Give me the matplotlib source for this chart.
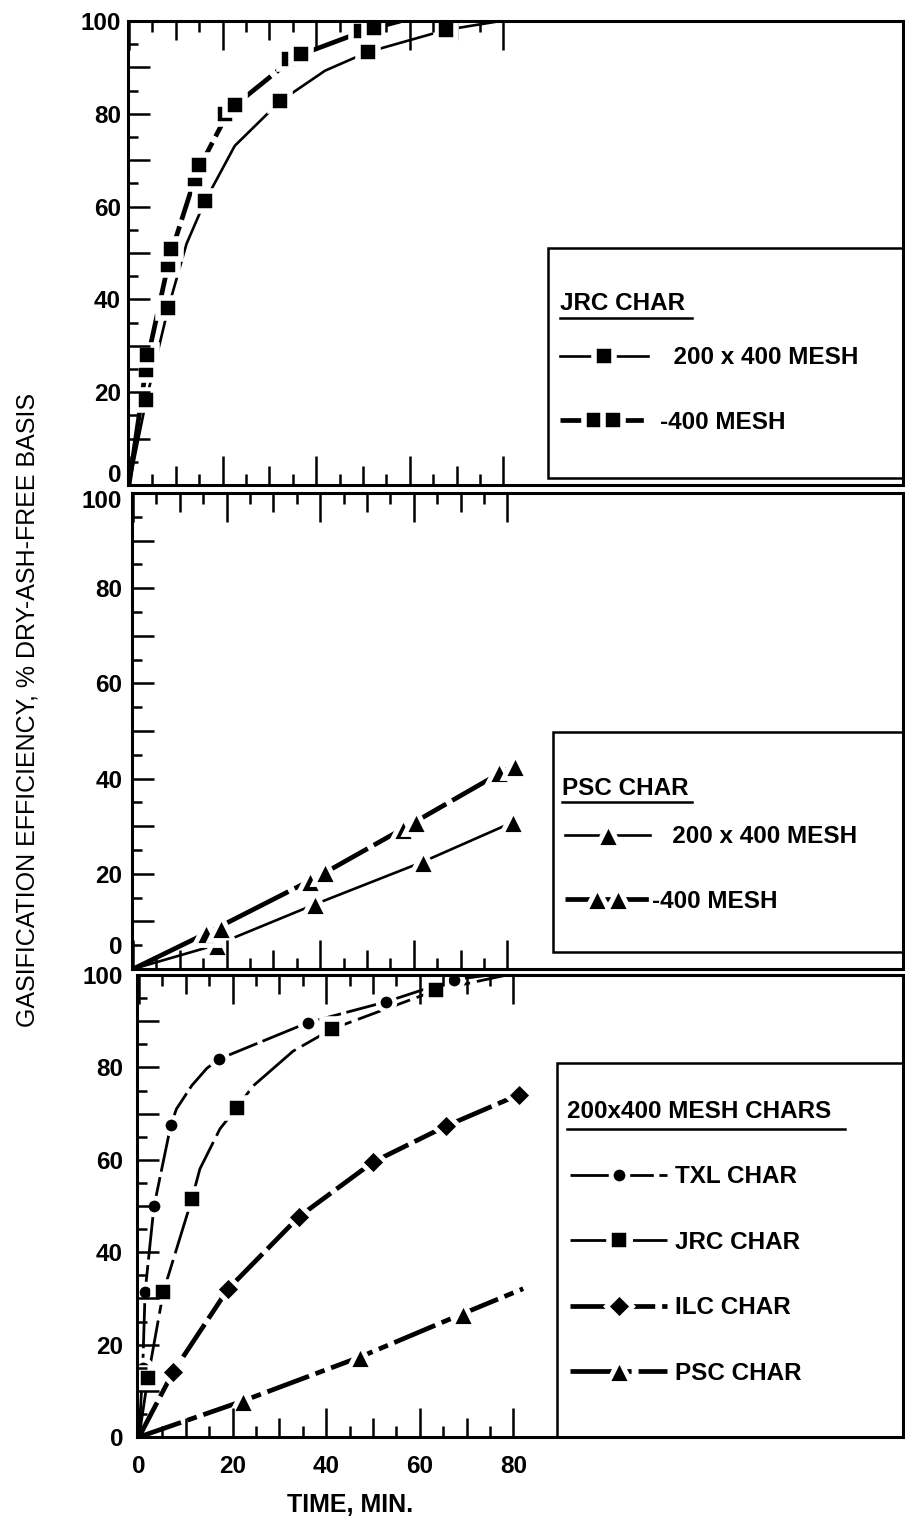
import matplotlib
matplotlib.use("Agg")
import matplotlib.pyplot as plt
from matplotlib.patches import Rectangle
from matplotlib.lines import Line2D
from matplotlib.legend_handler import HandlerLine2D, HandlerTuple
from matplotlib.ticker import FixedLocator, FuncFormatter

plt.rcParams['font.family'] = ['Liberation Sans', 'DejaVu Sans']
plt.rcParams['font.weight'] = 'bold'
plt.rcParams['lines.scale_dashes'] = False

# ---- top panel: JRC char ----
jrc_fine_t = [3.7, 8.4, 16.2, 32.3, 51.0, 67.8]
jrc_fine_y = [18.4, 38.2, 61.1, 82.7, 93.3, 98.1]
jrc_fine_curve_t = [0, 3.7, 8.4, 12.3, 16.2, 22.6, 32.3, 41.9, 51.0, 67.8, 79.4]
jrc_fine_curve_y = [0, 18.4, 38.2, 52.0, 61.1, 73.1, 82.7, 89.3, 93.3, 98.1, 100]

jrc_m400_t = [3.7, 3.9, 8.4, 9.0, 14.0, 15.0, 20.5, 22.6, 34.2, 36.8, 49.5, 52.3]
jrc_m400_y = [24.8, 28.1, 47.5, 50.8, 65.9, 68.9, 79.9, 81.9, 91.8, 92.9, 97.8, 98.5]
jrc_m400_curve_t = [0, 3.8, 8.7, 14.5, 21.5, 35.5, 50.9, 58.0]
jrc_m400_curve_y = [0, 26.4, 49.1, 67.4, 80.9, 92.3, 98.1, 100]

# ---- middle panel: PSC char ----
psc_fine_t = [17.9, 38.9, 61.9, 81.3]
psc_fine_y = [5.1, 13.6, 22.5, 30.9]
psc_fine_curve_t = [0, 17.9, 38.9, 61.9, 81.3]
psc_fine_curve_y = [0, 5.1, 13.6, 22.5, 30.9]

psc_m400_t = [15.5, 18.7, 37.9, 41.1, 57.7, 60.4, 78.1, 81.7]
psc_m400_y = [7.6, 8.7, 18.4, 20.3, 29.4, 30.9, 41.3, 42.6]
psc_m400_curve_t = [0, 17.1, 39.5, 59.0, 79.9]
psc_m400_curve_y = [0, 8.2, 19.4, 30.2, 42.0]

# ---- bottom panel: 200x400 mesh chars ----
txl_t = [0.8, 1.3, 3.2, 6.8, 17.1, 36.1, 52.8, 67.3]
txl_y = [15.0, 31.4, 49.9, 67.5, 81.8, 89.7, 94.2, 99.0]
txl_curve_t = [0, 0.8, 1.3, 3.2, 6.8, 8.0, 11.3, 14.5, 17.1, 36.1, 52.8, 67.3, 75.0]
txl_curve_y = [0, 15.0, 31.4, 49.9, 67.5, 71.0, 76.1, 79.8, 81.8, 89.7, 94.2, 99.0, 100]

jrc_t = [1.9, 5.2, 11.3, 20.9, 41.2, 63.5]
jrc_y = [12.8, 31.4, 51.5, 71.3, 88.3, 96.7]
jrc_curve_t = [0, 1.9, 5.2, 11.3, 13.0, 17.3, 20.9, 24.4, 32.9, 41.2, 63.5, 78.6]
jrc_curve_y = [0, 12.8, 31.4, 51.5, 58.0, 66.7, 71.3, 76.0, 83.5, 88.3, 96.7, 100]

ilc_t = [7.3, 19.0, 34.2, 50.0, 65.6, 81.2]
ilc_y = [14.1, 32.0, 47.7, 59.5, 67.3, 74.1]
ilc_curve_t = [0, 7.3, 19.0, 34.2, 50.0, 65.6, 81.2]
ilc_curve_y = [0, 14.1, 32.0, 47.7, 59.5, 67.3, 74.1]

psc_t = [22.2, 47.2, 69.2]
psc_y = [7.8, 17.3, 26.7]
psc_curve_t = [0, 22.2, 47.2, 69.2, 82.1]
psc_curve_y = [0, 7.8, 17.3, 26.7, 32.1]

ytick_labels = [0, 20, 40, 60, 80, 100]
xtick_labels = [0, 20, 40, 60, 80]

W, H = 905, 1518
PX_PER_MIN = 4.68
fig = plt.figure(figsize=(W / 100, H / 100), dpi=100)


def fx(px):
    return px / W


def fy(py):
    return 1 - py / H


def panel(left, top, bottom, zero, ypad, shifted):
    # shifted: {label value: vertical offset in px} for labels drawn off their tick
    ax = fig.add_axes([fx(left), fy(bottom), fx(903) - fx(left), fy(top) - fy(bottom)])
    ax.set_xlim(-(zero - left) / PX_PER_MIN, (903 - zero) / PX_PER_MIN)
    ax.set_ylim(0, 100)
    for s in ax.spines.values():
        s.set_linewidth(2.2)
    ax.xaxis.set_major_locator(FixedLocator(xtick_labels))
    ax.xaxis.set_minor_locator(FixedLocator([5, 15, 25, 35, 45, 55, 65, 75]))
    ax.tick_params(axis='x', which='major', direction='in', top=True, bottom=True,
                   length=21, width=1.8, labelbottom=False, pad=13, labelsize=17.5)
    ax.tick_params(axis='x', which='minor', direction='in', top=True, bottom=True,
                   length=8, width=1.8)
    for side in ('top', 'bottom'):
        sec = ax.secondary_xaxis(side)
        sec.set_xticks([10, 30, 50, 70])
        sec.tick_params(direction='in', length=14, width=1.8,
                        labeltop=False, labelbottom=False)
        sec.spines[side].set_visible(False)
    ax.yaxis.set_major_locator(FixedLocator(range(0, 101, 10)))
    ax.yaxis.set_minor_locator(FixedLocator(range(5, 100, 10)))
    ax.tick_params(axis='y', which='major', direction='in', length=16, width=1.8,
                   pad=ypad, labelsize=17.5)
    ax.tick_params(axis='y', which='minor', direction='in', length=7, width=1.8)
    ax.yaxis.set_major_formatter(FuncFormatter(
        lambda v, p: '%d' % v if v in ytick_labels and v not in shifted else ''))
    for v, dy in shifted.items():
        ax.annotate('%d' % v, xy=(0, v), xycoords=('axes fraction', 'data'),
                    xytext=(-ypad, -dy * 0.72), textcoords='offset points',
                    ha='right', va='center', fontsize=17.5)
    ax.set_axisbelow(False)
    return ax


def series(ax, ct, cy, t, y, line, mark):
    ax.plot(ct, cy, color='k', zorder=2, **line)
    ax.plot(t, y, ls='none', color='k', mfc='k', mec='white', zorder=2.2, **mark)
    return Line2D([], [], color='k', mfc='k', mec='white', **line, **mark)


def key_box(left, top, bottom, title, tx, ty, ux1, uy):
    fig.add_artist(Rectangle((fx(left), fy(bottom)), fx(903) - fx(left), fy(top) - fy(bottom),
                             transform=fig.transFigure, fill=False, lw=1.8, color='k'))
    fig.text(fx(tx), fy(ty), title, ha='left', va='baseline', fontsize=17.5)
    fig.add_artist(Line2D([fx(tx), fx(ux1)], [fy(uy), fy(uy)], transform=fig.transFigure,
                          color='k', lw=1.8))


thin = dict(lw=1.9, ls='-')
thick = dict(lw=3.4, ls=(0, (60, 5)))
sq = dict(marker='s', ms=14, mew=4)
tri = dict(marker='^', ms=17, mew=3.5)

# ---------------- top ----------------
ax1 = panel(128, 21, 485, 129, 5, {0: -9})
h_fine = series(ax1, jrc_fine_curve_t, jrc_fine_curve_y, jrc_fine_t, jrc_fine_y, thin, sq)
h_m400 = series(ax1, jrc_m400_curve_t, jrc_m400_curve_y, jrc_m400_t, jrc_m400_y, thick, sq)
key_box(548, 248, 478, 'JRC CHAR', 560, 310, 692, 318)
pair_line = Line2D([], [], color='k', **thick)
pair_mark = Line2D([], [], ls='none', color='k', mfc='k', mec='white', **sq)
ax1.legend([h_fine, (pair_line, pair_mark)], ['  200 x 400 MESH', '-400 MESH'],
           loc='center left', bbox_to_anchor=(fx(560), fy(390)), bbox_transform=fig.transFigure,
           frameon=False, borderpad=0, borderaxespad=0, handlelength=3.6, handletextpad=0.5,
           labelspacing=1.7, fontsize=17.5, numpoints=1,
           handler_map={tuple: HandlerTuple(ndivide=1, pad=0),
                        pair_mark: HandlerLine2D(numpoints=2, marker_pad=1.4)})

# ---------------- middle ----------------
ax2 = panel(132, 493, 969, 133, 7, {0: -21, 100: 9})
h_pfine = series(ax2, psc_fine_curve_t, psc_fine_curve_y, psc_fine_t, psc_fine_y, thin, tri)
h_pm400 = series(ax2, psc_m400_curve_t, psc_m400_curve_y, psc_m400_t, psc_m400_y, thick, tri)
key_box(553, 732, 952, 'PSC CHAR', 562, 795, 692, 802)
tpair_line = Line2D([], [], color='k', **thick)
tpair_mark = Line2D([], [], ls='none', color='k', mfc='k', mec='white', **tri)
ax2.legend([h_pfine, (tpair_line, tpair_mark)], ['   200 x 400 MESH', '-400 MESH'],
           loc='center left', bbox_to_anchor=(fx(565), fy(869)), bbox_transform=fig.transFigure,
           frameon=False, borderpad=0, borderaxespad=0, handlelength=3.5, handletextpad=0.1,
           labelspacing=1.72, fontsize=17.5, numpoints=1,
           handler_map={tuple: HandlerTuple(ndivide=1, pad=0),
                        tpair_mark: HandlerLine2D(numpoints=2, marker_pad=1.3)})

# ---------------- bottom ----------------
ax3 = panel(137, 975, 1437, 139, 10, {100: 3})
ax3.tick_params(axis='x', which='major', labelbottom=True)
h_txl = series(ax3, txl_curve_t, txl_curve_y, txl_t, txl_y,
               dict(lw=2.0, ls=(0, (60, 4))), dict(marker='o', ms=12, mew=3.5))
h_jrc = series(ax3, jrc_curve_t, jrc_curve_y, jrc_t, jrc_y,
               dict(lw=2.0, ls=(0, (40, 5))), sq)
h_ilc = series(ax3, ilc_curve_t, ilc_curve_y, ilc_t, ilc_y,
               dict(lw=3.4, ls=(0, (28, 5))), dict(marker='D', ms=13, mew=3.5))
h_psc = series(ax3, psc_curve_t, psc_curve_y, psc_t, psc_y,
               dict(lw=3.4, ls=(0, (32, 5, 7, 5))), tri)
key_box(557, 1063, 1437, '200x400 MESH CHARS', 567, 1118, 845, 1129)
ax3.legend([h_txl, h_jrc, h_ilc, h_psc], ['TXL CHAR', 'JRC CHAR', 'ILC CHAR', 'PSC CHAR'],
           loc='center left', bbox_to_anchor=(fx(570), fy(1275)), bbox_transform=fig.transFigure,
           frameon=False, borderpad=0, borderaxespad=0, handlelength=4.0, handletextpad=0.3,
           labelspacing=1.75, fontsize=17.5, numpoints=1)

fig.text(fx(28), fy(710), 'GASIFICATION EFFICIENCY, % DRY-ASH-FREE BASIS', rotation=90,
         ha='center', va='center', fontsize=18, fontweight='normal')
fig.text(fx(350), fy(1505), 'TIME, MIN.', ha='center', va='center', fontsize=18)

fig.savefig('out.png', dpi=100)
